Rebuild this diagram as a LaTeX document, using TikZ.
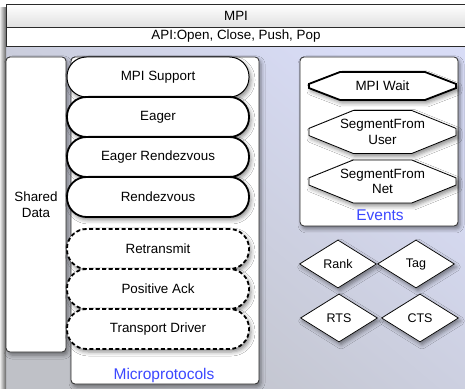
\documentclass[tikz,border=0pt]{standalone}
\usepackage{fontspec}
\setmainfont{Liberation Sans}
\usetikzlibrary{shapes.geometric,shapes.misc,shadows.blur}

\definecolor{bgblue}{HTML}{D8DCF6}
\definecolor{bggray}{HTML}{BFC1C7}
\definecolor{capblue}{HTML}{3C48FF}
\definecolor{frameline}{HTML}{2A2A2A}

\begin{document}
\begin{tikzpicture}[x=1pt,y=1pt,
  font=\fontsize{13.4}{15.5}\selectfont,
  soft/.style={blur shadow={shadow xshift=2pt, shadow yshift=-3pt,
      shadow blur radius=4pt, shadow opacity=45}},
  panel/.style={draw=frameline, line width=0.8pt, fill=white,
      rounded corners=4pt, inner sep=0pt},
  bar/.style={draw=frameline, line width=0.8pt, inner sep=0pt,
      minimum width=460pt},
  capsule/.style={draw=black, fill=white, rounded corners=19.5pt,
      minimum width=182pt, minimum height=40pt, inner sep=0pt, soft},
  solidcap/.style={capsule, line width=1.8pt},
  thincap/.style={capsule, line width=1pt},
  dashcap/.style={capsule, line width=1.8pt, dash pattern=on 4pt off 2.5pt},
  event/.style={chamfered rectangle, chamfered rectangle angle=68,
      chamfered rectangle xsep=22pt, chamfered rectangle ysep=9pt,
      draw=black, fill=white, line width=0.8pt, inner sep=0pt,
      minimum width=147pt, align=center, soft},
  flag/.style={diamond, draw=black, line width=0.7pt, fill=white,
      inner sep=0pt, aspect=1.6, minimum width=77pt, minimum height=48pt,
      soft, font=\fontsize{12.5}{14}\selectfont},
  caption/.style={text=capblue, font=\fontsize{15.5}{18}\selectfont}
]
\useasboundingbox (0,0) rectangle (465,388);
\fill[white] (0,0) rectangle (465,388);

% shaded backdrop of the whole frame
\shade[top color=bgblue, bottom color=bggray, shading angle=-40]
  (6,0) rectangle (465,342);
\shade[left color=black!8, right color=black!60] (0,0) rectangle (6,380);

% header bars
\node[bar, top color=white, bottom color=black!12, minimum height=23pt]
  (mpi) at (236,372.5) {MPI};
\node[bar, fill=white, minimum height=19pt]
  (api) at (236,351.5) {API:Open, Close, Push, Pop};

% shared data column
\node[panel, soft, minimum width=60pt, minimum height=295pt, align=center]
  (shared) at (36,183.5) {Shared\\Data};

% microprotocol stack
\node[panel, soft, minimum width=188pt, minimum height=327pt]
  (micro) at (165,167.5) {};
\node[caption] (microlbl) at (164,13) {Microprotocols};

\node[thincap]  (support)   at (158,311) {MPI Support};
\node[solidcap] (eager)     at (158,271) {Eager};
\node[solidcap] (eagerrdv)  at (158,231) {Eager Rendezvous};
\node[solidcap] (rdv)       at (158,191) {Rendezvous};
\node[dashcap]  (retrans)   at (158,139) {Retransmit};
\node[dashcap]  (posack)    at (158,99)  {Positive Ack};
\node[dashcap]  (transport) at (158,59)  {Transport Driver};

% events panel
\node[panel, soft, minimum width=158pt, minimum height=169pt]
  (events) at (379,246.5) {};
\node[caption] (eventslbl) at (380,173) {Events};

\node[event, line width=1.8pt, minimum height=28pt, chamfered rectangle angle=69,
      chamfered rectangle xsep=18pt, chamfered rectangle ysep=7pt]
  (wait) at (382.5,302) {MPI Wait};
\node[event, minimum height=38pt] (fromuser) at (382.5,256) {SegmentFrom\\User};
\node[event, minimum height=35pt] (fromnet) at (382.5,206.5) {SegmentFrom\\Net};

% message attributes
\node[flag] (rank) at (338,124) {Rank};
\node[flag] (tag)  at (416,124) {Tag};
\node[flag] (rts)  at (339,70)  {RTS};
\node[flag] (cts)  at (420,70)  {CTS};
\end{tikzpicture}
\end{document}
